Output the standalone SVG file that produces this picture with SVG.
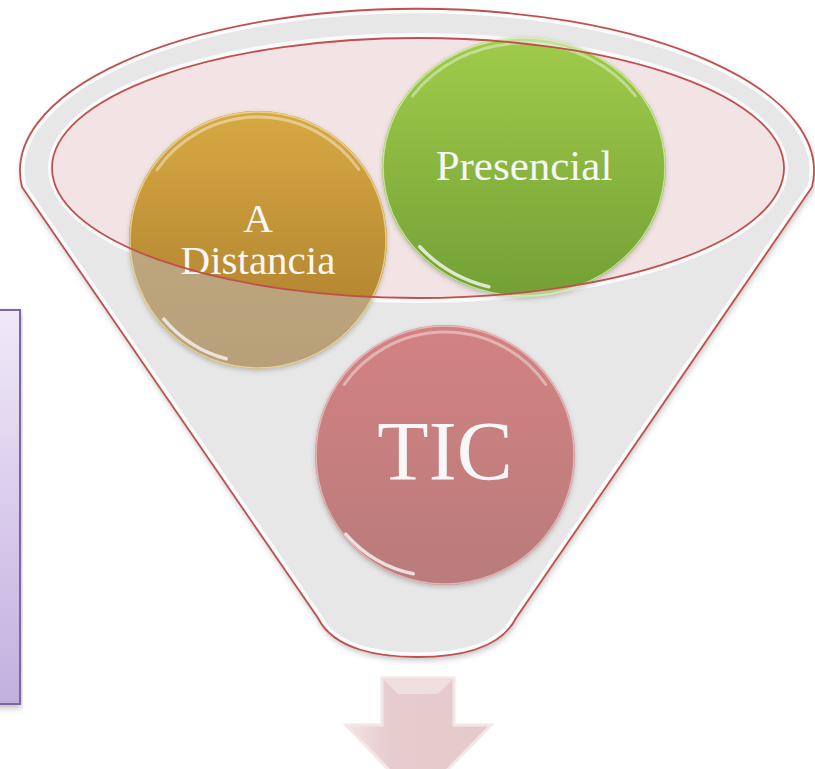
<svg xmlns="http://www.w3.org/2000/svg" width="815" height="769" viewBox="0 0 815 769">
  <defs>
    <linearGradient id="gGold" x1="0" y1="0" x2="0" y2="1">
      <stop offset="0" stop-color="#d7a943"/>
      <stop offset="1" stop-color="#a97b2b"/>
    </linearGradient>
    <linearGradient id="gTan" x1="0" y1="0" x2="0" y2="1">
      <stop offset="0" stop-color="#c4ae85"/>
      <stop offset="1" stop-color="#b7a079"/>
    </linearGradient>
    <linearGradient id="gGreen" x1="0" y1="0" x2="0" y2="1">
      <stop offset="0" stop-color="#a0cc4b"/>
      <stop offset="1" stop-color="#73a035"/>
    </linearGradient>
    <linearGradient id="gGreenPale" x1="0" y1="0" x2="0" y2="1">
      <stop offset="0" stop-color="#c6de9c"/>
      <stop offset="1" stop-color="#b5d08c"/>
    </linearGradient>
    <linearGradient id="gRed" x1="0" y1="0" x2="0" y2="1">
      <stop offset="0" stop-color="#d38282"/>
      <stop offset="1" stop-color="#b97b7b"/>
    </linearGradient>
    <linearGradient id="gPurple" x1="0" y1="0" x2="0" y2="1">
      <stop offset="0" stop-color="#efe9f8"/>
      <stop offset="1" stop-color="#c2b0df"/>
    </linearGradient>
    <linearGradient id="gArrow" x1="0" y1="0" x2="1" y2="0">
      <stop offset="0" stop-color="#f3e3e3"/>
      <stop offset="0.3" stop-color="#e6cccc"/>
      <stop offset="1" stop-color="#e4caca"/>
    </linearGradient>
    <clipPath id="innerClip">
      <ellipse cx="418" cy="168" rx="366" ry="130"/>
    </clipPath>
    <clipPath id="funnelClip">
      <path d="M22,187 L318,618 C334,650 380,657 417,657 C455,657 500,650 516,618 L812,187 A397,162 0 1 0 22,187 Z"/>
    </clipPath>
    <filter id="shadow" x="-10%" y="-10%" width="120%" height="120%">
      <feDropShadow dx="1" dy="3" stdDeviation="3" flood-color="#000" flood-opacity="0.25"/>
    </filter>
    <filter id="soft" x="-10%" y="-10%" width="120%" height="120%">
      <feDropShadow dx="0" dy="2" stdDeviation="2.5" flood-color="#000" flood-opacity="0.2"/>
    </filter>
  </defs>
  <style>
    .lbl { font-family: "Liberation Serif", "DejaVu Serif", serif; fill: #f7f7f7; text-anchor: middle; }
    .gloss { fill: none; stroke: #ffffff; stroke-linecap: round; }
    .rim { fill: none; stroke: #c0504d; stroke-width: 1.8; }
  </style>

  <g id="side-box" filter="url(#shadow)">
    <rect x="-6" y="310" width="26" height="394" fill="url(#gPurple)" stroke="#8064a2" stroke-width="2"/>
  </g>

  <g id="funnel">
    <path d="M22,187 L318,618 C334,650 380,657 417,657 C455,657 500,650 516,618 L812,187 A397,162 0 1 0 22,187 Z" fill="#e7e7e7" filter="url(#shadow)"/>
    <g clip-path="url(#funnelClip)">
      <path d="M22,187 L318,618 C334,650 380,657 417,657 C455,657 500,650 516,618 L812,187 A397,162 0 1 0 22,187 Z" fill="none" stroke="#ffffff" stroke-width="9" opacity="0.9"/>
    </g>
    <path d="M22,187 L318,618 C334,650 380,657 417,657 C455,657 500,650 516,618 L812,187 A397,162 0 1 0 22,187 Z" class="rim"/>
    <ellipse cx="418" cy="168" rx="368" ry="133" fill="none" stroke="#ffffff" stroke-width="4" opacity="0.8"/>
    <ellipse cx="418" cy="168" rx="366" ry="130" fill="#f2e4e4"/>
  </g>

  <g id="node-distancia">
    <g filter="url(#soft)">
      <circle cx="258" cy="240" r="129" fill="url(#gTan)"/>
    </g>
    <circle cx="258" cy="240" r="129" fill="url(#gGold)" clip-path="url(#innerClip)"/>
    <path d="M157.2,169.5 A123,123 0 0 1 358.8,169.5" class="gloss" stroke-width="3" opacity="0.4"/>
    <path d="M163.8,319.1 A123,123 0 0 0 226.2,358.8" class="gloss" stroke-width="3.5" opacity="0.7"/>
    <circle cx="258" cy="240" r="128" fill="none" stroke="#f3e2a8" stroke-width="1.5" opacity="0.7"/>
    <text class="lbl" x="258" y="232" font-size="41">A</text>
    <text class="lbl" x="258" y="274" font-size="41">Distancia</text>
  </g>

  <g id="node-presencial">
    <g filter="url(#soft)">
      <ellipse cx="524" cy="167" rx="142" ry="130" fill="url(#gGreenPale)"/>
    </g>
    <ellipse cx="524" cy="167" rx="142" ry="130" fill="url(#gGreen)" clip-path="url(#innerClip)"/>
    <path d="M412.6,95.9 A136,124 0 0 1 635.4,95.9" class="gloss" stroke-width="3" opacity="0.4"/>
    <path d="M419.8,246.7 A136,124 0 0 0 488.8,286.8" class="gloss" stroke-width="3.5" opacity="0.75"/>
    <ellipse cx="524" cy="167" rx="141" ry="129" fill="none" stroke="#e6f3c6" stroke-width="1.5" opacity="0.7"/>
    <text class="lbl" x="524" y="180" font-size="43">Presencial</text>
  </g>

  <g id="inner-rim">
    <ellipse cx="418" cy="168" rx="366" ry="130" class="rim"/>
  </g>

  <g id="node-tic">
    <g filter="url(#soft)">
      <circle cx="445" cy="455" r="130" fill="url(#gRed)"/>
    </g>
    <path d="M344.2,384.5 A123,123 0 0 1 545.8,384.5" class="gloss" stroke-width="3" opacity="0.4"/>
    <path d="M345.8,534.1 A123,123 0 0 0 413.2,573.8" class="gloss" stroke-width="3.5" opacity="0.75"/>
    <circle cx="445" cy="455" r="129" fill="none" stroke="#f1cccc" stroke-width="1.5" opacity="0.7"/>
    <text class="lbl" x="445" y="480" font-size="84">TIC</text>
  </g>

  <g id="connectors">
    <path d="M382,678 L454,678 L454,725 L491,725 L418,800 L346,725 L382,725 Z" fill="url(#gArrow)" stroke="#f4e6e6" stroke-width="3" stroke-linejoin="miter"/>
    <path d="M384,680 L452,680 L438,694 L398,694 Z" fill="#f3e3e3" opacity="0.8"/>
  </g>
</svg>
